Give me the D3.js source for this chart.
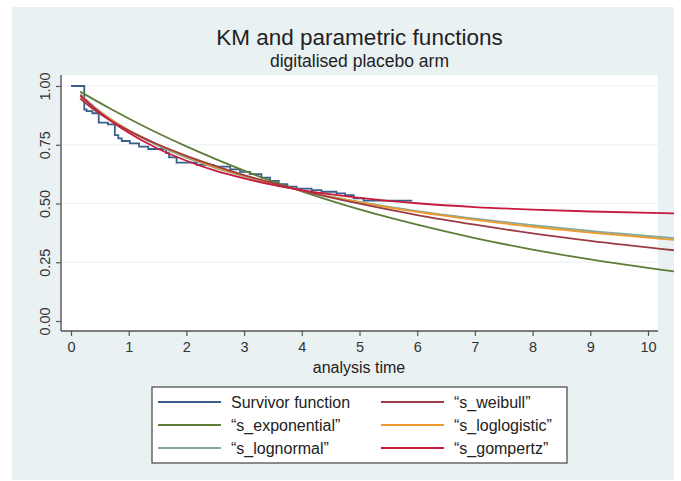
<!DOCTYPE html>
<html>
<head>
<meta charset="utf-8">
<script src="https://cdn.jsdelivr.net/npm/d3@7"></script>
<style>
  html, body { margin: 0; padding: 0; background: #ffffff; }
  svg { display: block; }
  text { font-family: "Liberation Sans", Arial, Helvetica, sans-serif; fill: #333333; }
</style>
</head>
<body>
<svg id="chart" width="681" height="481"></svg>
<script>
// ---- Data ----
const kmTime = [0, 0.23, 0.27, 0.37, 0.48, 0.64, 0.76, 0.82, 0.88, 1.02, 1.18, 1.34, 1.65, 1.70, 1.83, 2.18, 2.47, 2.76, 2.93, 3.10, 3.30, 3.45, 3.60, 3.75, 3.91, 4.17, 4.34, 4.60, 4.75, 4.90, 5.07, 5.90];
const kmSurv = [1.0, 0.900, 0.893, 0.884, 0.844, 0.837, 0.791, 0.777, 0.766, 0.756, 0.742, 0.732, 0.714, 0.696, 0.674, 0.664, 0.657, 0.645, 0.635, 0.625, 0.610, 0.596, 0.582, 0.572, 0.563, 0.557, 0.550, 0.543, 0.536, 0.522, 0.512, 0.508];

const fitTime        = [0.16, 0.4, 0.7, 1, 1.5, 2, 2.5, 3, 3.5, 4, 5, 6, 7, 8, 9, 10.45];
const sWeibull       = [0.947, 0.899, 0.851, 0.810, 0.752, 0.703, 0.660, 0.621, 0.587, 0.555, 0.499, 0.451, 0.410, 0.373, 0.341, 0.301];
const sExponential   = [0.976, 0.942, 0.901, 0.862, 0.800, 0.743, 0.690, 0.640, 0.594, 0.552, 0.475, 0.410, 0.353, 0.304, 0.262, 0.211];
const sLoglogistic   = [0.957, 0.908, 0.856, 0.812, 0.751, 0.699, 0.655, 0.618, 0.584, 0.555, 0.505, 0.464, 0.430, 0.401, 0.376, 0.345];
const sLognormal     = [0.965, 0.912, 0.857, 0.811, 0.747, 0.695, 0.652, 0.615, 0.583, 0.555, 0.507, 0.468, 0.436, 0.408, 0.383, 0.353];
const sGompertz      = [0.960, 0.907, 0.850, 0.801, 0.734, 0.682, 0.640, 0.607, 0.579, 0.557, 0.524, 0.501, 0.485, 0.474, 0.466, 0.458];

const xTicks = [0, 1, 2, 3, 4, 5, 6, 7, 8, 9, 10];
const yTicks = [0, 0.25, 0.5, 0.75, 1];
const yGrid  = [0.25, 0.5, 0.75, 1];

const seriesNames  = ["Survivor function", "\u201Cs_weibull\u201D", "\u201Cs_exponential\u201D", "\u201Cs_loglogistic\u201D", "\u201Cs_lognormal\u201D", "\u201Cs_gompertz\u201D"];
const seriesColors = ["#3a5f8c", "#9a3d45", "#5e7d36", "#ec9a2a", "#86a89c", "#c8193e"];

// ---- Layout ----
const svg = d3.select("#chart");
const W = 681, H = 481;
const plot = { left: 61, right: 658, top: 75, bottom: 331 };

const x = d3.scaleLinear().domain([0, 10]).range([71, 648]);
const y = d3.scaleLinear().domain([0, 1]).range([321, 86]);

// outer background
svg.append("rect").attr("x", 0).attr("y", 0).attr("width", W).attr("height", H).attr("fill", "#ffffff");
svg.append("rect").attr("x", 12).attr("y", 7).attr("width", 662).attr("height", 473).attr("fill", "#eaf1f3");

// plot region
svg.append("rect")
  .attr("x", plot.left).attr("y", plot.top)
  .attr("width", plot.right - plot.left).attr("height", plot.bottom - plot.top)
  .attr("fill", "#ffffff");

// grid
svg.append("g").selectAll("line").data(yGrid).join("line")
  .attr("x1", plot.left).attr("x2", plot.right)
  .attr("y1", d => y(d)).attr("y2", d => y(d))
  .attr("stroke", "#eaf1f3").attr("stroke-width", 1.2);

// titles
svg.append("text").attr("x", 359.5).attr("y", 45).attr("text-anchor", "middle")
  .style("font-size", "22.5px").style("fill", "#222").text("KM and parametric functions");
svg.append("text").attr("x", 359.5).attr("y", 67).attr("text-anchor", "middle")
  .style("font-size", "17.5px").style("fill", "#222").text("digitalised placebo arm");

// axes
const axisColor = "#555555";
const yAxis = d3.axisLeft(y).tickValues(yTicks).tickFormat(d3.format(".2f")).tickSize(5).tickPadding(6);
const gy = svg.append("g").attr("transform", `translate(${plot.left},0)`).call(yAxis);
gy.select(".domain").remove();
gy.selectAll(".tick line").attr("stroke", axisColor).attr("stroke-width", 1.2);
gy.selectAll(".tick text")
  .attr("x", 0).attr("y", 0).attr("dy", null)
  .attr("text-anchor", "middle")
  .attr("transform", "translate(-11,0) rotate(-90)")
  .style("font-size", "14.5px").style("fill", "#333").style("font-family", '"Liberation Sans", Arial, sans-serif');
svg.append("line").attr("x1", plot.left).attr("x2", plot.left).attr("y1", plot.top).attr("y2", plot.bottom)
  .attr("stroke", axisColor).attr("stroke-width", 1.4);

const xAxis = d3.axisBottom(x).tickValues(xTicks).tickFormat(d3.format("d")).tickSize(5).tickPadding(6);
const gx = svg.append("g").attr("transform", `translate(0,${plot.bottom})`).call(xAxis);
gx.select(".domain").remove();
gx.selectAll(".tick line").attr("stroke", axisColor).attr("stroke-width", 1.2);
gx.selectAll(".tick text").style("font-size", "14.5px").style("fill", "#333")
  .style("font-family", '"Liberation Sans", Arial, sans-serif');
svg.append("line").attr("x1", plot.left).attr("x2", plot.right).attr("y1", plot.bottom).attr("y2", plot.bottom)
  .attr("stroke", axisColor).attr("stroke-width", 1.4);

svg.append("text").attr("x", 359).attr("y", 373).attr("text-anchor", "middle")
  .style("font-size", "16px").style("fill", "#222").text("analysis time");

// ---- Lines ----
const stepLine = d3.line().x(d => x(d[0])).y(d => y(d[1])).curve(d3.curveStepAfter);
const smoothLine = d3.line().x(d => x(d[0])).y(d => y(d[1])).curve(d3.curveMonotoneX);

const fits = [
  { vals: sExponential, color: seriesColors[2] },
  { vals: sLognormal,   color: seriesColors[4] },
  { vals: sLoglogistic, color: seriesColors[3] },
  { vals: sWeibull,     color: seriesColors[1] },
  { vals: sGompertz,    color: seriesColors[5] }
];

svg.append("path")
  .attr("d", stepLine(kmTime.map((t, i) => [t, kmSurv[i]])))
  .attr("fill", "none").attr("stroke", seriesColors[0]).attr("stroke-width", 1.8);

fits.forEach(f => {
  svg.append("path")
    .attr("d", smoothLine(fitTime.map((t, i) => [t, f.vals[i]])))
    .attr("fill", "none").attr("stroke", f.color).attr("stroke-width", 1.8);
});

// ---- Legend ----
const lg = svg.append("g");
lg.append("rect").attr("x", 152).attr("y", 387).attr("width", 415).attr("height", 76)
  .attr("fill", "#ffffff").attr("stroke", "#444").attr("stroke-width", 1.2);
const colKeyX = [158, 381];
const colTextX = [231, 454];
const rowY = [402, 425, 448];
seriesNames.forEach((name, i) => {
  const col = i % 2, row = Math.floor(i / 2);
  lg.append("line").attr("x1", colKeyX[col]).attr("x2", colKeyX[col] + 63)
    .attr("y1", rowY[row]).attr("y2", rowY[row])
    .attr("stroke", seriesColors[i]).attr("stroke-width", 1.8);
  lg.append("text").attr("x", colTextX[col]).attr("y", rowY[row] + 5.5)
    .style("font-size", "16px").style("fill", "#222").text(name);
});
</script>
</body>
</html>
